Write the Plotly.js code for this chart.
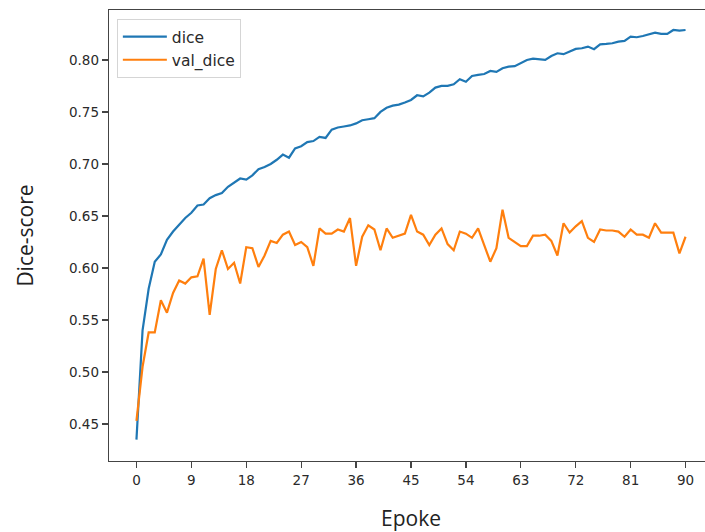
<!DOCTYPE html>
<html>
<head>
<meta charset="utf-8">
<script src="https://cdn.plot.ly/plotly-3.0.1.min.js"></script>
<style>
html, body { margin:0; padding:0; overflow:hidden; background:#fff; width:705px; height:532px; }
#chart { width:713px; height:532px; }
</style>
</head>
<body>
<div id="chart"></div>
<script>
const epochs = Array.from({length: 91}, (_, i) => i);

const dice = [
  0.435, 0.540, 0.580, 0.606, 0.613, 0.627, 0.635, 0.642, 0.648, 0.653,
  0.660, 0.661, 0.667, 0.670, 0.672, 0.678, 0.682, 0.686, 0.685, 0.689,
  0.695, 0.697, 0.700, 0.704, 0.709, 0.706, 0.715, 0.717, 0.721, 0.722,
  0.726, 0.725, 0.733, 0.735, 0.736, 0.737, 0.739, 0.742, 0.743, 0.744,
  0.750, 0.754, 0.756, 0.757, 0.759, 0.7615, 0.766, 0.765, 0.7686, 0.7734,
  0.775, 0.775, 0.7766, 0.7814, 0.779, 0.7846, 0.7856, 0.7865, 0.7894, 0.7885,
  0.792, 0.7936, 0.794, 0.7968, 0.800, 0.8013, 0.8007, 0.800, 0.8038, 0.8064,
  0.8055, 0.808, 0.8106, 0.8112, 0.8128, 0.8103, 0.815, 0.8154, 0.816, 0.8176,
  0.8183, 0.8224, 0.8218, 0.823, 0.8247, 0.8263, 0.825, 0.825, 0.8288, 0.8282,
  0.8288
];

const valDice = [
  0.453, 0.505, 0.538, 0.538, 0.569, 0.557, 0.576, 0.588, 0.585, 0.591,
  0.592, 0.609, 0.555, 0.599, 0.617, 0.599, 0.605, 0.585, 0.620, 0.619,
  0.601, 0.612, 0.626, 0.624, 0.632, 0.635, 0.622, 0.625, 0.620, 0.602,
  0.638, 0.633, 0.633, 0.637, 0.635, 0.648, 0.602, 0.630, 0.641, 0.637,
  0.617, 0.638, 0.629, 0.631, 0.633, 0.651, 0.635, 0.632, 0.622, 0.632,
  0.638, 0.623, 0.617, 0.635, 0.633, 0.629, 0.638, 0.622, 0.606, 0.619,
  0.656, 0.629, 0.625, 0.621, 0.621, 0.631, 0.631, 0.632, 0.626, 0.612,
  0.643, 0.634, 0.640, 0.645, 0.629, 0.625, 0.637, 0.636, 0.636, 0.635,
  0.630, 0.637, 0.632, 0.632, 0.629, 0.643, 0.634, 0.634, 0.634, 0.614,
  0.630
];

const xTicks = [0, 9, 18, 27, 36, 45, 54, 63, 72, 81, 90];
const yTicks = [0.45, 0.50, 0.55, 0.60, 0.65, 0.70, 0.75, 0.80];
const yTickText = ['0.45', '0.50', '0.55', '0.60', '0.65', '0.70', '0.75', '0.80'];

const traces = [
  { x: epochs, y: dice, type: 'scatter', mode: 'lines', name: 'dice',
    line: { color: '#1f77b4', width: 2.2 } },
  { x: epochs, y: valDice, type: 'scatter', mode: 'lines', name: 'val_dice',
    line: { color: '#ff7f0e', width: 2.2 } }
];

const tickFont = { family: 'DejaVu Sans', size: 13.5, color: '#2a2a2a' };
const axisLine = { showline: true, linecolor: '#444', linewidth: 1.3, mirror: true,
  showgrid: false, zeroline: false, ticks: 'outside', ticklen: 6, tickwidth: 1.3,
  tickcolor: '#444', tickfont: tickFont };

const layout = {
  width: 713, height: 532,
  margin: { l: 109, r: 0, t: 10, b: 71 },
  paper_bgcolor: '#fff', plot_bgcolor: '#fff',
  showlegend: true,
  legend: { x: 0.013, y: 0.98, xanchor: 'left', yanchor: 'top',
    font: { family: 'DejaVu Sans', size: 15.5, color: '#2a2a2a' },
    tracegroupgap: 2, itemwidth: 44,
    bgcolor: 'rgba(255,255,255,0.8)', bordercolor: '#d5d5d5', borderwidth: 1 },
  xaxis: Object.assign({}, axisLine, {
    range: [-4.5, 94.5], tickvals: xTicks, ticktext: xTicks.map(String),
    title: { text: 'Epoke', font: { family: 'Open Sans', size: 21, color: '#222' }, standoff: 24 }
  }),
  yaxis: Object.assign({}, axisLine, {
    range: [0.4144, 0.848], tickvals: yTicks, ticktext: yTickText,
    title: { text: 'Dice-score', font: { family: 'Open Sans', size: 21, color: '#222' }, standoff: 29 }
  })
};

Plotly.newPlot('chart', traces, layout, { displayModeBar: false, staticPlot: true });
</script>
</body>
</html>
